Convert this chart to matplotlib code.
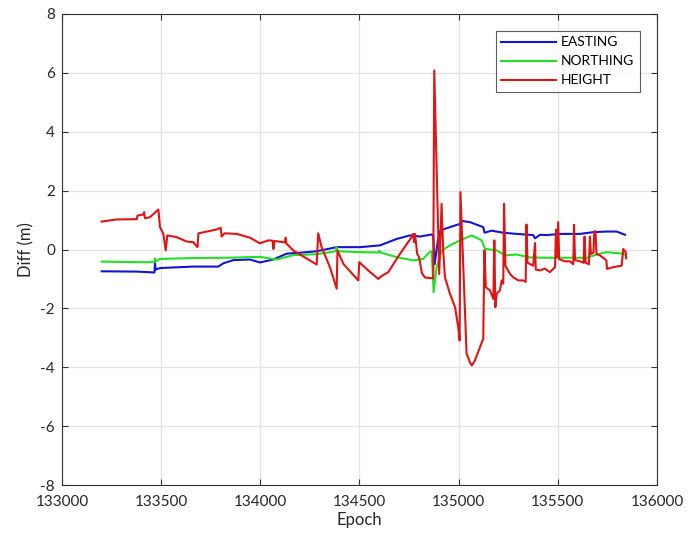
import matplotlib
matplotlib.use("Agg")
import matplotlib.pyplot as plt
from matplotlib.ticker import ScalarFormatter

plt.rcParams['font.family'] = ['Lato', 'DejaVu Sans']
plt.rcParams['axes.unicode_minus'] = False

# Epoch / difference samples for each coordinate component
easting_epoch = [133200, 133377, 133466, 133469, 133472, 133494, 133662, 133788, 133813,
                 133864, 133948, 133998, 134065, 134133, 134200, 134284, 134385, 134503,
                 134603, 134688, 134755, 134805, 134864, 134872, 134879, 134895, 134908,
                 134956, 135007, 135015, 135057, 135124, 135131, 135166, 135225, 135292,
                 135376, 135385, 135410, 135444, 135511, 135612, 135679, 135746, 135797,
                 135839]
easting_diff = [-0.74, -0.75, -0.78, -0.46, -0.68, -0.63, -0.58, -0.58, -0.47,
                -0.36, -0.34, -0.44, -0.34, -0.14, -0.11, -0.06, 0.08, 0.08,
                0.14, 0.36, 0.48, 0.44, 0.51, 0.45, -0.50, 0.30, 0.65,
                0.76, 0.87, 0.97, 0.93, 0.76, 0.57, 0.64, 0.57, 0.53,
                0.49, 0.38, 0.50, 0.49, 0.53, 0.53, 0.59, 0.61, 0.61,
                0.50]

northing_epoch = [133200, 133377, 133466, 133469, 133473, 133494, 133662, 133830, 133998,
                  134082, 134166, 134284, 134380, 134384, 134390, 134503, 134595, 134600,
                  134605, 134688, 134771, 134822, 134847, 134864, 134874, 134889, 134915,
                  134956, 135007, 135066, 135116, 135133, 135192, 135234, 135292, 135360,
                  135444, 135545, 135645, 135696, 135746, 135813, 135839]
northing_diff = [-0.41, -0.43, -0.43, -0.30, -0.40, -0.32, -0.29, -0.28, -0.25,
                 -0.34, -0.19, -0.16, -0.06, 0.08, -0.06, -0.09, -0.10, -0.04,
                 -0.10, -0.26, -0.37, -0.32, -0.12, -0.05, -1.45, -0.60, -0.03,
                 0.14, 0.31, 0.48, 0.31, 0.02, -0.03, -0.20, -0.17, -0.27,
                 -0.28, -0.28, -0.28, -0.17, -0.09, -0.13, -0.17]

height_epoch = [133200, 133276, 133377, 133380, 133410, 133414, 133418, 133444, 133486,
                133494, 133511, 133523, 133531, 133578, 133629, 133662, 133683, 133688,
                133780, 133800, 133805, 133820, 133881, 133948, 133998, 134040, 134062,
                134066, 134072, 134124, 134128, 134132, 134166, 134284, 134292, 134309,
                134351, 134385, 134389, 134419, 134494, 134499, 134544, 134595, 134612,
                134645, 134704, 134763, 134771, 134776, 134780, 134791, 134800, 134815,
                134830, 134872, 134877, 134902, 134914, 134922, 134931, 134956, 134982,
                134998, 135005, 135009, 135040, 135057, 135066, 135082, 135124, 135130,
                135137, 135158, 135175, 135180, 135185, 135192, 135208, 135217, 135225,
                135229, 135236, 135259, 135275, 135301, 135326, 135338, 135342, 135347,
                135376, 135385, 135389, 135410, 135435, 135460, 135486, 135491, 135496,
                135502, 135507, 135535, 135561, 135578, 135582, 135587, 135612, 135630,
                135635, 135640, 135657, 135662, 135667, 135680, 135684, 135690, 135695,
                135713, 135745, 135748, 135780, 135822, 135830, 135843, 135845]
height_diff = [0.95, 1.02, 1.03, 1.15, 1.19, 1.27, 1.06, 1.10, 1.36,
               0.76, 0.53, -0.03, 0.48, 0.42, 0.27, 0.25, 0.08, 0.55,
               0.68, 0.74, 0.44, 0.55, 0.53, 0.40, 0.21, 0.31, 0.30,
               0.02, 0.29, 0.24, 0.40, 0.20, -0.03, -0.51, 0.55, 0.08,
               -0.60, -1.33, -0.03, -0.49, -1.05, -0.43, -0.71, -1.00, -0.90,
               -0.77, -0.15, 0.42, 0.53, 0.25, 0.53, -0.15, -0.25, -0.80,
               -0.95, -0.98, 6.08, -0.83, 1.55, -0.03, -0.94, -1.50, -1.96,
               -2.64, -3.09, 1.95, -3.53, -3.83, -3.94, -3.77, -3.03, -0.03,
               -1.28, -1.39, -1.68, 0.31, -1.96, -1.50, -1.39, -1.05, -1.16,
               1.55, -0.55, -0.83, -0.94, -1.05, -1.05, -1.10, 0.85, -0.45,
               -0.55, 0.22, -0.68, -0.71, -0.65, -0.77, -0.60, 0.67, -0.26,
               0.93, -0.33, -0.40, -0.40, -0.50, 0.84, -0.36, -0.40, -0.45,
               0.44, -0.45, -0.50, 0.44, -0.15, -0.10, 0.62, 0.62, -0.15,
               -0.20, -0.37, -0.66, -0.60, -0.55, 0.02, -0.10, -0.30]

series_names = ['EASTING', 'NORTHING', 'HEIGHT']
x_ticks = [133000, 133500, 134000, 134500, 135000, 135500, 136000]
y_ticks = [-8, -6, -4, -2, 0, 2, 4, 6, 8]

fig = plt.figure(figsize=(6.89, 5.36), dpi=100)
ax = fig.add_axes([0.090, 0.095, 0.8635, 0.879])

ax.plot(easting_epoch, easting_diff, color='#1414d2', lw=1.5, label=series_names[0])
ax.plot(northing_epoch, northing_diff, color='#22e022', lw=1.5, label=series_names[1])
ax.plot(height_epoch, height_diff, color='#e01414', lw=1.5, label=series_names[2])

ax.set_xlim(x_ticks[0], x_ticks[-1])
ax.set_ylim(y_ticks[0], y_ticks[-1])
ax.set_xticks(x_ticks)
ax.set_yticks(y_ticks)
fmt = ScalarFormatter(useOffset=False)
fmt.set_scientific(False)
ax.xaxis.set_major_formatter(fmt)

ax.grid(True, color='#e3e3e3', lw=0.9)
ax.set_axisbelow(True)
for sp in ax.spines.values():
    sp.set_color('#333333')
    sp.set_linewidth(0.8)
ax.tick_params(direction='in', top=True, right=True, length=4, width=0.8,
               colors='#333333', labelsize=11, labelcolor='#262626')
ax.tick_params(axis='x', pad=7)
ax.tick_params(axis='y', pad=5)

ax.set_xlabel('Epoch', fontsize=12, color='#262626', labelpad=2)
ax.set_ylabel('Diff (m)', fontsize=12, color='#262626', labelpad=4)

leg = ax.legend(loc='upper right', bbox_to_anchor=(0.9714, 0.9639), fontsize=10,
                frameon=True, fancybox=False, borderpad=0.4, labelspacing=0.5,
                handlelength=3.9, handletextpad=0.4, borderaxespad=0.0)
leg.get_frame().set_edgecolor('#333333')
leg.get_frame().set_linewidth(0.8)

fig.savefig('out.png', dpi=100)
